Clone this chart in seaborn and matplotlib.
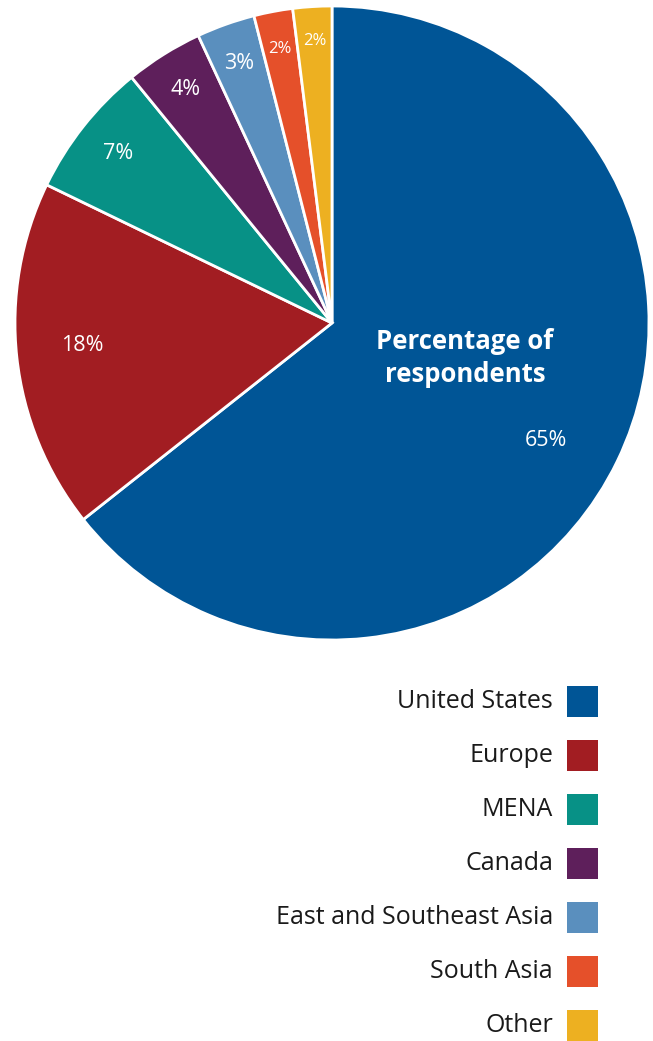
import numpy as np
import matplotlib
matplotlib.use("Agg")
import matplotlib.pyplot as plt
import seaborn as sns

regions = ["United States", "Europe", "MENA", "Canada",
           "East and Southeast Asia", "South Asia", "Other"]
shares = [65, 18, 7, 4, 3, 2, 2]
share_labels = ["65%", "18%", "7%", "4%", "3%", "2%", "2%"]
colors = ["#005596", "#A21D22", "#079186", "#5E1F5B", "#5A8FBE", "#E5502A", "#EDB021"]

sns.set_theme(style="white")
plt.rcParams['font.family'] = ['Open Sans', 'DejaVu Sans']

W, H = 653, 1041
fig = plt.figure(figsize=(W / 100, H / 100), dpi=100)

# pie axes: centre (332, 323) px, radius 317 px
cx, cy, r = 332, 323, 317
ax = fig.add_axes([(cx - r) / W, (H - cy - r) / H, 2 * r / W, 2 * r / H])
wedges, _ = ax.pie(shares, colors=colors, startangle=90, counterclock=False,
                   radius=1, wedgeprops=dict(edgecolor="white", linewidth=2))
ax.set_xlim(-1, 1)
ax.set_ylim(-1, 1)
ax.set_aspect("equal")
ax.axis("off")

label_r = [0.77, 0.79, 0.86, 0.87, 0.87, 0.88, 0.89]
label_da = [-3, -1, 0, 0, 0, 0, 0]
label_fs = [15.5, 15.5, 15.5, 15.5, 15.5, 12, 12]
for w, lab, lr, da, fs in zip(wedges, share_labels, label_r, label_da, label_fs):
    ang = np.deg2rad((w.theta1 + w.theta2) / 2 + da)
    ax.text(lr * np.cos(ang), lr * np.sin(ang), lab, color="white",
            fontsize=fs, ha="center", va="center")

ax.text((465 - cx) / r, -(358 - cy) / r, "Percentage of\nrespondents",
        color="white", fontsize=18.5, fontweight="bold", ha="center", va="center",
        linespacing=1.3)

# legend
for i, (name, col) in enumerate(zip(regions, colors)):
    yc = 701.5 + i * 54
    fig.text(553 / W, 1 - yc / H, name, ha="right", va="center",
             fontsize=18, color="#1a1a1a")
    fig.patches.append(plt.Rectangle((567 / W, 1 - (yc + 15.5) / H), 31 / W, 31 / H,
                                     facecolor=col, edgecolor="none",
                                     transform=fig.transFigure, figure=fig))

fig.savefig("out.png", dpi=100, facecolor="white")
